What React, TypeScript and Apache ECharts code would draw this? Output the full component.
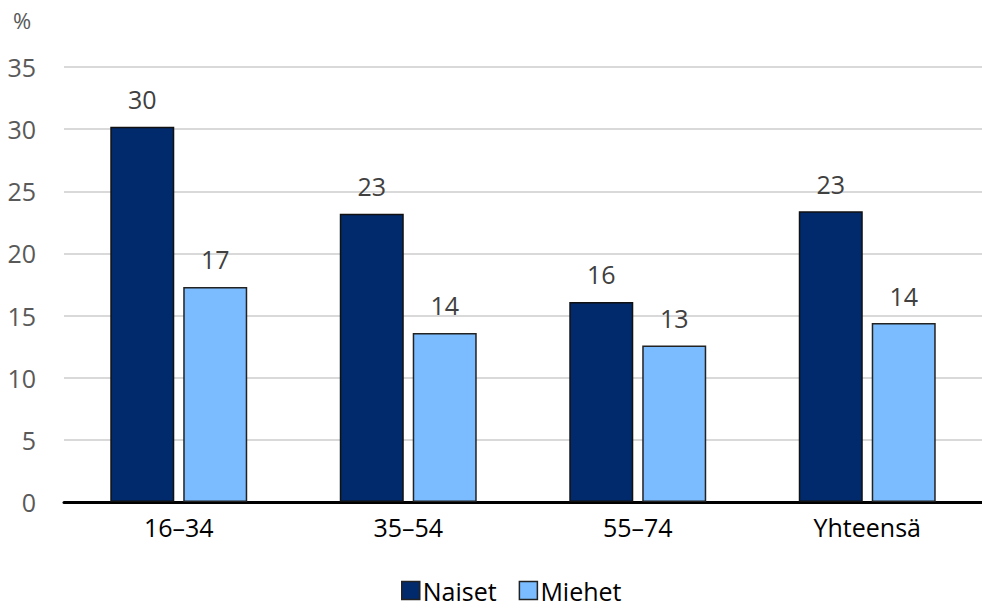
import React, { useEffect, useRef } from "react";
import * as echarts from "echarts";

const categories = ["16–34", "35–54", "55–74", "Yhteensä"];
const naiset = [30.2, 23.2, 16.1, 23.4];
const miehet = [17.3, 13.6, 12.6, 14.4];
const seriesNames = ["Naiset", "Miehet"];

const FONT = "'Open Sans', 'Noto Sans', sans-serif";

export default function App() {
  const ref = useRef<HTMLDivElement>(null);
  useEffect(() => {
    if (!ref.current) return;
    const chart = echarts.init(ref.current, null, { renderer: "svg" });
    const labelCfg = {
      show: true,
      position: "top",
      distance: 15,
      fontSize: 25,
      color: "#404040",
      fontFamily: FONT,
      formatter: (p: any) => String(Math.round(p.value)),
    };
    chart.setOption({
      animation: false,
      textStyle: { fontFamily: FONT },
      grid: { left: 64, right: 0, top: 67, bottom: 107, containLabel: false },
      graphic: [
        {
          type: "text",
          left: 13,
          top: 9,
          style: { text: "%", fontSize: 22, fill: "#595959", fontFamily: FONT },
        },
      ],
      legend: {
        bottom: 1,
        left: 396,
        itemWidth: 18,
        itemHeight: 18,
        itemGap: 22,
        icon: "rect",
        itemStyle: { borderColor: "#222", borderWidth: 1.5 },
        textStyle: { fontSize: 25, color: "#000", fontFamily: FONT, padding: [0, 0, 0, -2] },
        data: seriesNames,
      },
      xAxis: {
        type: "category",
        data: categories,
        axisLine: { lineStyle: { color: "#000", width: 3 } },
        axisTick: { show: false },
        axisLabel: { fontSize: 25, color: "#000", margin: 12, fontFamily: FONT },
      },
      yAxis: {
        type: "value",
        min: 0,
        max: 35,
        interval: 5,
        axisLine: { show: false },
        axisTick: { show: false },
        axisLabel: { fontSize: 25, color: "#595959", margin: 28, fontFamily: FONT },
        splitLine: { lineStyle: { color: "#d9d9d9", width: 2 } },
      },
      series: [
        {
          name: seriesNames[0],
          type: "bar",
          data: naiset,
          barWidth: 64,
          barGap: "14%",
          itemStyle: { color: "#002a6b", borderColor: "#111", borderWidth: 1.5 },
          label: labelCfg,
        },
        {
          name: seriesNames[1],
          type: "bar",
          data: miehet,
          barWidth: 64,
          barGap: "14%",
          itemStyle: { color: "#7abcff", borderColor: "#222", borderWidth: 1.5 },
          label: labelCfg,
        },
      ],
    });
    return () => chart.dispose();
  }, []);
  return (
    <div
      ref={ref}
      style={{ position: "fixed", left: 0, top: 0, width: 982, height: 609, background: "#fff" }}
    />
  );
}
